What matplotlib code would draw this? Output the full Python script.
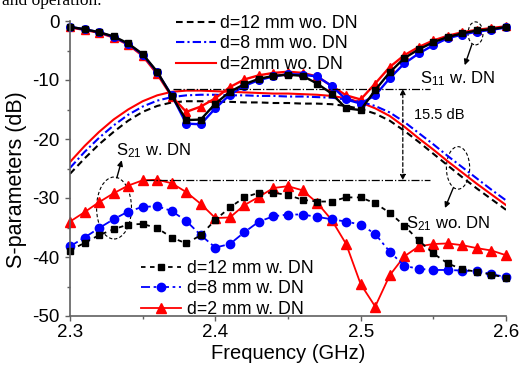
import numpy as np
import matplotlib
matplotlib.use('Agg')
import matplotlib.pyplot as plt
from matplotlib.patches import Ellipse

plt.rcParams['font.family'] = ['Liberation Sans', 'DejaVu Sans']
plt.rcParams['mathtext.fontset'] = 'custom'
plt.rcParams['mathtext.rm'] = 'Liberation Sans'
plt.rcParams['mathtext.it'] = 'Liberation Sans:italic'
plt.rcParams['axes.unicode_minus'] = False

# frequency grid (GHz), 0.01 step
freq = np.linspace(2.3, 2.6, 31)

# S11 with DN
s11_d12 = [-1.0, -1.4, -1.9, -2.6, -3.8, -5.6, -8.6, -12.7, -16.8, -16.7, -14.0,
           -12.0, -10.7, -9.8, -9.3, -9.1, -9.3, -10.6, -12.3, -14.8, -15.1,
           -11.7, -8.7, -6.3, -4.8, -3.6, -2.7, -2.1, -1.6, -1.4, -1.0]
s11_d8 = [-1.0, -1.4, -1.9, -2.7, -3.9, -5.7, -8.7, -12.6, -17.4, -17.5, -14.8,
          -12.5, -11.0, -10.0, -9.4, -9.0, -9.1, -9.4, -11.0, -13.3, -14.0,
          -12.6, -9.7, -7.2, -5.5, -4.1, -2.9, -2.3, -1.8, -1.5, -1.1]
s11_d2 = [-1.1, -1.5, -2.0, -2.8, -4.0, -5.9, -9.0, -12.8, -15.4, -14.5, -13.1,
          -11.2, -9.9, -9.2, -8.8, -8.6, -8.8, -9.4, -11.0, -12.6, -13.3,
          -10.6, -7.8, -5.8, -4.4, -3.3, -2.5, -1.9, -1.5, -1.2, -0.9]

# S21 without DN
s21wo_d12 = [-25.9, -23.3, -20.9, -18.8, -16.9, -15.4, -14.4, -13.8, -13.6, -13.6, -13.7,
             -13.7, -13.8, -13.8, -13.9, -13.9, -14.0, -14.0, -14.1, -14.4, -14.9,
             -15.7, -16.9, -18.6, -20.5, -22.5, -24.5, -26.5, -28.4, -30.2, -32.0]
s21wo_d8 = [-24.9, -22.2, -19.8, -17.7, -15.9, -14.5, -13.5, -12.9, -12.6, -12.5, -12.5,
            -12.6, -12.6, -12.7, -12.7, -12.8, -12.8, -12.9, -13.0, -13.3, -13.7,
            -14.4, -15.5, -17.1, -19.0, -20.9, -22.9, -24.8, -26.7, -28.6, -30.4]
s21wo_d2 = [-23.9, -21.2, -18.8, -16.7, -15.0, -13.6, -12.6, -12.0, -11.8, -11.8, -11.9,
            -12.0, -12.1, -12.2, -12.3, -12.3, -12.4, -12.5, -12.7, -13.1, -13.8,
            -14.8, -16.1, -17.9, -19.9, -21.8, -23.8, -25.7, -27.6, -29.4, -31.2]

# S21 with DN
s21w_d12 = [-38.9, -37.6, -36.3, -35.3, -34.5, -34.4, -35.1, -36.7, -37.7, -36.3, -33.7,
            -31.6, -29.9, -29.1, -29.1, -29.5, -30.3, -30.6, -30.6, -29.9, -29.9,
            -30.9, -32.5, -34.7, -37.2, -39.4, -41.1, -42.1, -42.5, -43.0, -43.5]
s21w_d8 = [-38.2, -36.7, -35.1, -33.6, -32.3, -31.5, -31.4, -32.2, -33.9, -36.3, -38.4,
           -37.8, -35.8, -34.0, -33.1, -32.8, -32.8, -33.2, -33.6, -34.0, -34.5,
           -36.1, -39.1, -41.5, -42.0, -42.2, -42.2, -42.3, -42.4, -42.9, -43.4]
s21w_d2 = [-34.0, -32.4, -30.7, -29.2, -27.9, -27.0, -26.9, -27.5, -29.0, -31.0, -33.4,
           -33.3, -31.2, -29.8, -28.3, -28.0, -28.7, -30.8, -33.7, -37.8, -44.6,
           -48.4, -43.1, -39.9, -38.2, -37.8, -37.7, -38.0, -38.5, -38.9, -39.7]

wo_labels = ['d=12 mm wo. DN', 'd=8 mm wo. DN', 'd=2mm wo. DN']
w_labels = ['d=12 mm w. DN', 'd=8 mm w. DN', 'd=2 mm w. DN']

fig = plt.figure(figsize=(5.2, 3.67), dpi=100)
ax = fig.add_axes([70/520, 51/367, 436/520, 295/367])

# S21 wo. DN
l_wo2, = ax.plot(freq, s21wo_d2, color='red', lw=1.5, label=wo_labels[2])
l_wo8, = ax.plot(freq, s21wo_d8, color='blue', lw=1.5, dashes=(4, 1.5, 1, 1.5), label=wo_labels[1])
l_wo12, = ax.plot(freq, s21wo_d12, color='black', lw=1.5, dashes=(3.2, 2), label=wo_labels[0])

# S11 w. DN
ax.plot(freq, s11_d2, color='red', lw=1.7, marker='^', ms=5.5, clip_on=False)
ax.plot(freq, s11_d8, color='blue', lw=1.7, marker='o', ms=5.5, clip_on=False)
ax.plot(freq, s11_d12, color='black', lw=1.7, marker='s', ms=5, clip_on=False)

# S21 w. DN
l_w2, = ax.plot(freq, s21w_d2, color='red', lw=1.3, marker='^', ms=6.5, clip_on=False, label=w_labels[2])
l_w8, = ax.plot(freq, s21w_d8, color='blue', lw=1.3, dashes=(5, 2, 1.5, 2), marker='o', ms=6,
                clip_on=False, label=w_labels[1])
l_w12, = ax.plot(freq, s21w_d12, color='black', lw=1.3, dashes=(2.5, 2.5), marker='s', ms=5,
                 clip_on=False, label=w_labels[0])

# 15.5 dB annotation
ax.plot([2.371, 2.548], [-11.5, -11.5], color='black', lw=0.9, ls='-.')
ax.plot([2.352, 2.548], [-27.0, -27.0], color='black', lw=0.9, ls='-.')
ax.annotate('', xy=(2.529, -11.5), xytext=(2.529, -27.0),
            arrowprops=dict(arrowstyle='<|-|>', color='black', lw=0.9, ls=(0, (3, 2)),
                            mutation_scale=8, shrinkA=0, shrinkB=0))
ax.text(2.537, -16.0, '15.5 dB', fontsize=10.5, va='center', ha='left')

# ellipses, arrows, labels
for cx, cy, w, h in [(2.3303, -31.7, 0.024, 10.5), (2.579, -2.1, 0.0103, 3.9), (2.567, -24.9, 0.016, 7.2)]:
    ax.add_patch(Ellipse((cx, cy), w, h, fill=False, ec='black', lw=0.8, ls=(0, (3, 2)), clip_on=False))

arr = dict(arrowstyle='-|>', color='black', lw=1.0, mutation_scale=8, shrinkA=0, shrinkB=0)
ax.annotate('', xy=(2.3356, -23.6), xytext=(2.3322, -26.6), arrowprops=arr)
ax.annotate('', xy=(2.5716, -7.5), xytext=(2.5765, -4.0), arrowprops=arr)
ax.annotate('', xy=(2.558, -31.7), xytext=(2.5637, -28.3), arrowprops=arr)

ax.text(2.3316, -22.7, 'S$_{21}$ w. DN', fontsize=12, va='baseline')
ax.text(2.5407, -10.5, 'S$_{11}$ w. DN', fontsize=12, va='baseline')
ax.text(2.5315, -35.1, 'S$_{21}$ wo. DN', fontsize=12, va='baseline')

ax.set_xlim(2.3, 2.6)
ax.set_ylim(-50, 0)
ax.set_xticks([2.3, 2.4, 2.5, 2.6])
ax.set_xticks([2.35, 2.45, 2.55], minor=True)
ax.set_yticks([-50, -40, -30, -20, -10, 0])
ax.set_yticks([-45, -35, -25, -15, -5], minor=True)
for s in ['top', 'right']:
    ax.spines[s].set_visible(False)
for s in ['left', 'bottom']:
    ax.spines[s].set_color('#606060')
    ax.spines[s].set_linewidth(1.2)
ax.tick_params(which='both', direction='out', color='#606060', width=1.0, labelsize=13.5)
ax.tick_params(which='major', length=3.5)
ax.tick_params(which='minor', length=2)
ax.tick_params(axis='x', pad=2.5)
ax.tick_params(axis='y', pad=4)

ax.set_xlabel('Frequency (GHz)', fontsize=14.5)
ax.set_ylabel('S-parameters (dB)', fontsize=15.5)
ax.xaxis.set_label_coords(0.5, -0.095)
ax.yaxis.set_label_coords(-0.0975, 0.461)

leg1 = fig.legend(handles=[l_wo12, l_wo8, l_wo2], loc='upper left',
                  bbox_to_anchor=(166.7/520, 1 - 6/367), frameon=False, fontsize=12.8,
                  borderpad=0, handlelength=2.3, handletextpad=0.2, labelspacing=0.2)
leg2 = fig.legend(handles=[l_w12, l_w8, l_w2], loc='upper left',
                  bbox_to_anchor=(131.7/520, 1 - 251/367), frameon=False, fontsize=12.8,
                  borderpad=0, handlelength=2.3, handletextpad=0.3, labelspacing=0.2)

fig.text(2/520, 1 - 5/367, 'and operation.', fontsize=12.5, family='Liberation Serif', va='baseline')

plt.savefig('out.png', dpi=100)
